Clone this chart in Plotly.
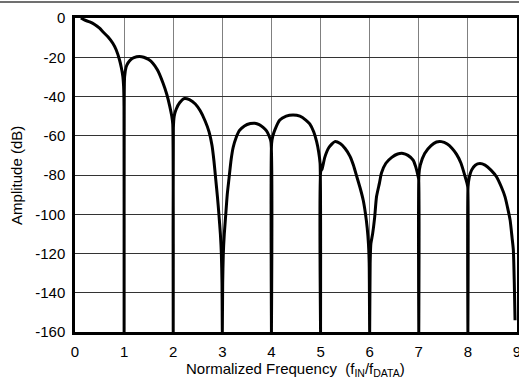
import plotly.graph_objects as go

# Frequency response
freq = [
    0.12, 0.19, 0.3, 0.4, 0.5, 0.567, 0.67, 0.77, 0.84, 0.907, 0.945, 0.975, 0.99, 0.998, 1.0,
    1.002, 1.01, 1.04, 1.077, 1.13, 1.2, 1.31, 1.4, 1.5, 1.585, 1.68, 1.79, 1.87, 1.93, 1.97, 1.99, 2.0,
    2.003, 2.02, 2.06, 2.13, 2.23, 2.33, 2.45, 2.55, 2.65, 2.73, 2.79, 2.83, 2.865, 2.9, 2.93, 2.96, 2.98, 2.993, 3.0,
    3.007, 3.02, 3.04, 3.07, 3.1, 3.135, 3.18, 3.22, 3.28, 3.35, 3.45, 3.57, 3.66, 3.75, 3.83, 3.9, 3.95, 3.99, 4.0,
    4.003, 4.03, 4.07, 4.17, 4.3, 4.44, 4.58, 4.7, 4.78, 4.86, 4.92, 4.96, 4.99, 5.0,
    5.005, 5.03, 5.086, 5.17, 5.29, 5.4, 5.5, 5.6, 5.67, 5.74, 5.81, 5.87, 5.91, 5.95, 5.975, 5.99, 6.0,
    6.01, 6.025, 6.06, 6.1, 6.14, 6.2, 6.24, 6.33, 6.45, 6.57, 6.68, 6.78, 6.885, 6.94, 6.98, 6.997, 7.0,
    7.003, 7.03, 7.12, 7.25, 7.36, 7.46, 7.58, 7.68, 7.77, 7.86, 7.94, 7.98, 7.997, 8.0,
    8.003, 8.03, 8.075, 8.15, 8.245, 8.35, 8.47, 8.585, 8.68, 8.755, 8.82, 8.86, 8.9, 8.925, 8.945, 8.96,
]
amp_db = [
    0, -1, -2.0, -3.3, -5.2, -7, -9.6, -12.9, -16.3, -21.4, -25.5, -30, -35, -45, -160,
    -45, -30, -25, -23, -21.3, -20.2, -19.6, -20.0, -21.2, -23, -26.5, -33, -39, -45, -50, -54, -160,
    -56, -50, -46.5, -43.2, -41, -41.6, -43.8, -47.3, -52.5, -58, -65, -73, -82, -91, -100, -110, -120, -135, -160,
    -135, -120, -110, -100, -90, -82, -72, -66, -61, -57.3, -55, -53.8, -53.6, -54.3, -55.7, -57.5, -60, -63, -160,
    -64, -60, -57, -52, -50, -49.4, -50, -52, -54, -58, -63, -68, -74, -160,
    -78, -77, -71, -66, -63, -64, -66.5, -70.5, -75, -81, -87, -93, -99, -107, -115, -125, -160,
    -125, -115, -110, -102, -91, -84, -79, -74, -71, -69.3, -69, -70, -72.4, -76, -80, -82, -160,
    -80, -75, -69, -65, -63.2, -63, -64.2, -66.5, -69.5, -74, -80.5, -84, -86, -160,
    -86, -81, -77.5, -75, -74.2, -75, -77.5, -81, -86, -91, -98, -103, -112, -118, -135, -154,
]

x_ticks = [0, 1, 2, 3, 4, 5, 6, 7, 8, 9]
y_ticks = [0, -20, -40, -60, -80, -100, -120, -140, -160]
x_title = "Normalized Frequency&nbsp; (f<sub>IN</sub>/f<sub>DATA</sub>)"
y_title = "Amplitude (dB)"

fig = go.Figure()
fig.add_trace(go.Scatter(
    x=freq, y=amp_db, mode="lines",
    line=dict(color="black", width=3, shape="spline", smoothing=0.6),
    showlegend=False, hoverinfo="skip",
))

font = dict(family="Liberation Sans, Arial, sans-serif", size=15, color="black")

fig.update_layout(
    width=519, height=380,
    margin=dict(l=75, r=2, t=18, b=48, autoexpand=False),
    paper_bgcolor="white", plot_bgcolor="white",
    font=font,
    xaxis=dict(
        range=[0, 9], tickvals=x_ticks, ticktext=[str(v) for v in x_ticks],
        showgrid=True, gridcolor="#808080", gridwidth=1,
        showline=True, linecolor="black", linewidth=2.5, mirror=True,
        zeroline=False, ticks="outside", ticklen=4, tickcolor="rgba(0,0,0,0)",
        automargin=False, tickfont=font, ticklabeloverflow="allow",
    ),
    yaxis=dict(
        range=[-160, 0], tickvals=y_ticks, ticktext=[str(v) for v in y_ticks],
        showgrid=True, gridcolor="#333333", gridwidth=1,
        showline=True, linecolor="black", linewidth=2.5, mirror=True,
        zeroline=False, ticks="outside", ticklen=4, tickcolor="rgba(0,0,0,0)",
        automargin=False, tickfont=font, ticklabeloverflow="allow",
    ),
    annotations=[
        dict(text=x_title, xref="paper", yref="paper", x=0.498, y=-0.118,
             xanchor="center", yanchor="middle", showarrow=False, font=font),
        dict(text=y_title, xref="paper", yref="paper", x=-0.1336, y=0.5,
             xanchor="center", yanchor="middle", textangle=-90, showarrow=False, font=font),
    ],
    shapes=[dict(type="line", xref="paper", yref="paper",
                 x0=-0.2, x1=1.01, y0=1.051, y1=1.051,
                 line=dict(color="#707070", width=2))],
)

fig.write_html("out.html", config={"displayModeBar": False},
               post_script="document.body.style.margin='0';")
